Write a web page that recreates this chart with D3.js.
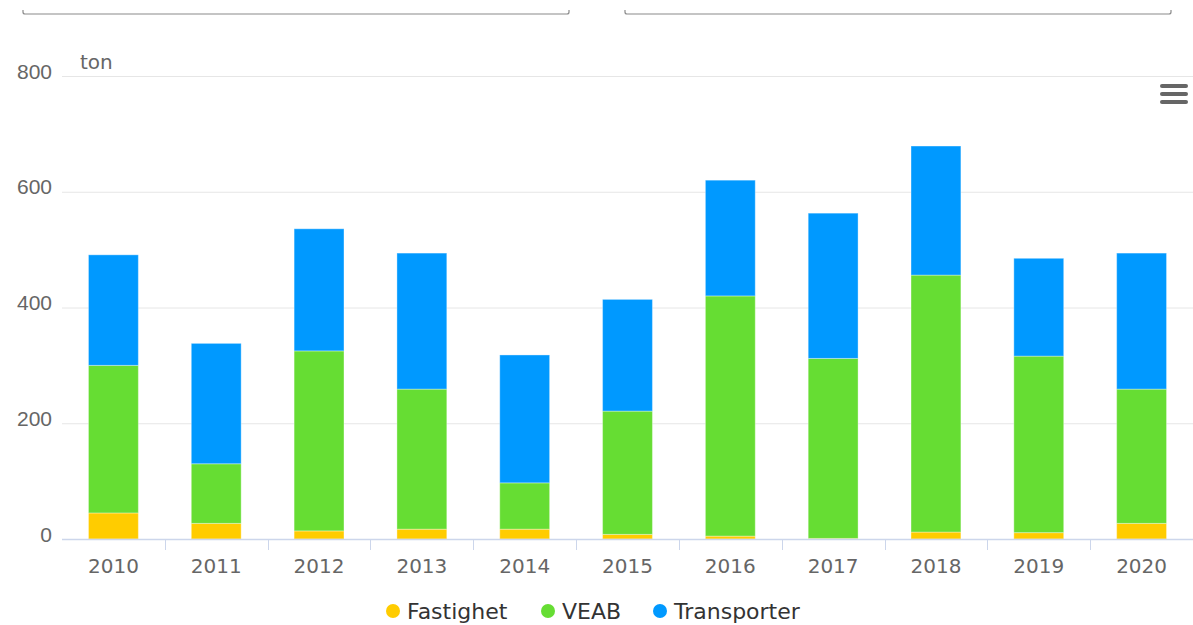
<!DOCTYPE html>
<html>
<head>
<meta charset="utf-8">
<script src="https://cdn.jsdelivr.net/npm/d3@7"></script>
<style>
  html, body { margin: 0; padding: 0; background: #fff; }
  svg { display: block; font-family: "DejaVu Sans", Verdana, sans-serif; }
</style>
</head>
<body>
<div id="chart"></div>
<script>
/** Chart data */
var years = ["2010", "2011", "2012", "2013", "2014", "2015", "2016", "2017", "2018", "2019", "2020"];
var seriesNames = ["Fastighet", "VEAB", "Transporter"];
var seriesColors = ["#ffcc00", "#66dd33", "#0099ff"];
var fastighet = [45, 27, 14, 17, 17, 8, 5, 1, 12, 11, 27];
var veab = [255, 103, 311, 242, 80, 213, 415, 311, 444, 305, 232];
var transporter = [191, 208, 211, 235, 221, 193, 200, 251, 223, 169, 235];
var yTicks = [0, 200, 400, 600, 800];
var yTitle = "ton";

var width = 1193, height = 625;
var margin = {left: 62, right: 0, top: 76, bottom: 86};

var svg = d3.select("#chart")
  .append("svg")
  .attr("width", width)
  .attr("height", height);

/** Two field boxes at the top of the page (only their lower edges show) */
[[23, 569], [625, 1171]].forEach(function(b){
  svg.append("path")
    .attr("d", "M" + b[0] + ",10 L" + b[0] + ",12 Q" + b[0] + ",14 " + (b[0] + 2) + ",14 L" + (b[1] - 2) + ",14 Q" + b[1] + ",14 " + b[1] + ",12 L" + b[1] + ",10")
    .attr("fill", "none")
    .attr("stroke", "#8a8a8a")
    .attr("stroke-width", 1.2);
});

var x = d3.scaleBand()
  .domain(years)
  .range([margin.left, width - margin.right])
  .paddingInner(0.515)
  .paddingOuter(0.2575);

var y = d3.scaleLinear()
  .domain([0, 800])
  .range([height - margin.bottom, margin.top]);

/** Grid lines and y labels */
var yAxis = svg.append("g")
  .attr("transform", "translate(" + margin.left + ",0)")
  .call(d3.axisLeft(y).tickValues(yTicks).tickSize(-(width - margin.left - margin.right)).tickPadding(10));
yAxis.select(".domain").remove();
yAxis.selectAll(".tick line").attr("stroke", "#e6e6e6");
yAxis.selectAll(".tick text")
  .attr("fill", "#666666")
  .attr("font-size", "21px")
  .attr("dy", "0.1em");

svg.append("text")
  .attr("x", 80)
  .attr("y", 69)
  .attr("fill", "#666666")
  .attr("font-size", "20px")
  .text(yTitle);

/** Stacked bars */
var rows = years.map(function(d, i){
  return {year: d, Fastighet: fastighet[i], VEAB: veab[i], Transporter: transporter[i]};
});
var stacked = d3.stack().keys(seriesNames)(rows);

svg.append("g")
  .selectAll("g")
  .data(stacked)
  .join("g")
  .attr("fill", function(d, i){ return seriesColors[i]; })
  .selectAll("rect")
  .data(function(d){ return d; })
  .join("rect")
  .attr("x", function(d){ return x(d.data.year); })
  .attr("width", x.bandwidth())
  .attr("y", function(d){ return y(d[1]); })
  .attr("height", function(d){ return y(d[0]) - y(d[1]); })
  .attr("stroke", "rgba(255,255,255,0.35)")
  .attr("stroke-width", 1);

/** X axis line, ticks between categories, labels */
var x0 = y(0);
svg.append("line")
  .attr("x1", margin.left).attr("x2", width)
  .attr("y1", x0 + 0.5).attr("y2", x0 + 0.5)
  .attr("stroke", "#ccd6eb")
  .attr("stroke-width", 1.5);

svg.append("g")
  .selectAll("line")
  .data(years)
  .join("line")
  .attr("x1", function(d){ return Math.round(x(d) + x.bandwidth() / 2 + x.step() / 2) + 0.5; })
  .attr("x2", function(d){ return Math.round(x(d) + x.bandwidth() / 2 + x.step() / 2) + 0.5; })
  .attr("y1", x0)
  .attr("y2", x0 + 11)
  .attr("stroke", "#ccd6eb");

svg.append("g")
  .selectAll("text")
  .data(years)
  .join("text")
  .attr("x", function(d){ return x(d) + x.bandwidth() / 2; })
  .attr("y", x0 + 34)
  .attr("text-anchor", "middle")
  .attr("fill", "#666666")
  .attr("font-size", "20px")
  .text(function(d){ return d; });

/** Legend */
var legendX = [393, 548, 660];
var legend = svg.append("g")
  .selectAll("g")
  .data(seriesNames)
  .join("g")
  .attr("transform", function(d, i){ return "translate(" + legendX[i] + ",611)"; });
legend.append("circle")
  .attr("r", 7)
  .attr("fill", function(d, i){ return seriesColors[i]; });
legend.append("text")
  .attr("x", 14)
  .attr("y", 8)
  .attr("fill", "#333333")
  .attr("font-size", "22px")
  .text(function(d){ return d; });

/** Context menu icon */
svg.append("g")
  .selectAll("line")
  .data([86, 94, 102])
  .join("line")
  .attr("x1", 1162).attr("x2", 1186)
  .attr("y1", function(d){ return d; })
  .attr("y2", function(d){ return d; })
  .attr("stroke", "#666666")
  .attr("stroke-width", 4)
  .attr("stroke-linecap", "round");
</script>
</body>
</html>
